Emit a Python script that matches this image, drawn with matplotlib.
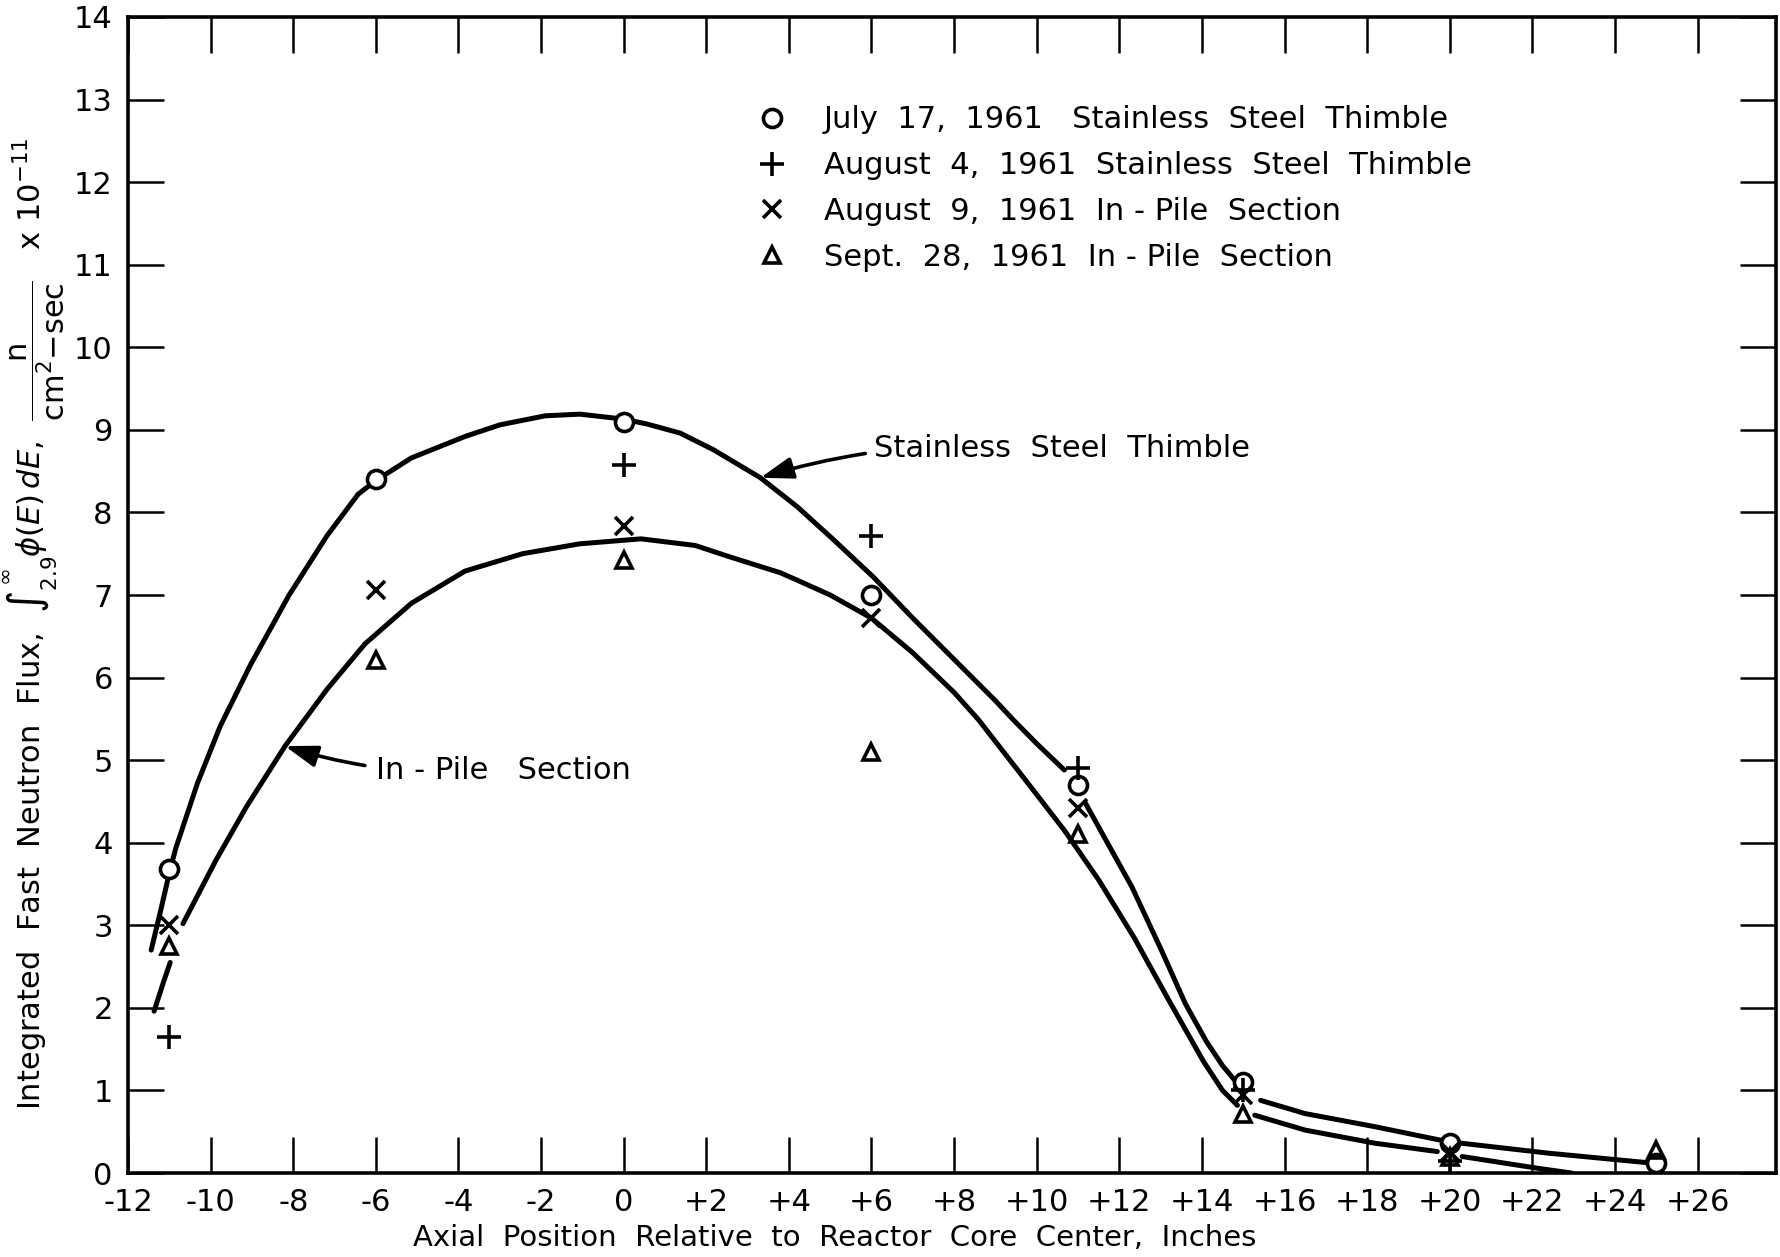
import matplotlib
matplotlib.use("Agg")
import matplotlib.pyplot as plt
import numpy as np

plt.rcParams['font.family'] = ['DejaVu Sans']
plt.rcParams['mathtext.fontset'] = 'dejavusans'

nan = np.nan

# measured points (x = inches from core center, y = flux x 1e-11)
july17_x = [-11, -6, 0, 6, 11, 15, 20, 25]
july17_y = [3.68, 8.40, 9.10, 7.00, 4.70, 1.10, 0.36, 0.12]

aug4_x = [-11, 0, 6, 11, 15, 20]
aug4_y = [1.65, 8.57, 7.72, 4.90, 1.00, 0.15]

aug9_x = [-11, -6, 0, 6, 11, 15, 20]
aug9_y = [3.00, 7.06, 7.83, 6.72, 4.42, 0.95, 0.25]

sep28_x = [-11, -6, 0, 6, 11, 15, 20, 25]
sep28_y = [2.75, 6.21, 7.42, 5.10, 4.10, 0.72, 0.20, 0.28]

# hand drawn curves (nan = gap in the line)
steel_x = [-11.44, -11.2, -10.98, -10.84, -10.32, -9.77, -9.04, -8.1, -7.18, -6.43, -6.02,
           -5.14, -3.84, -3.0, -1.9, -1.06, 0.0, 0.57, 1.37, 2.17, 3.31, 4.2, 5.08, 6.04,
           7.0, 8.0, 9.0, 9.43, 10.0, 10.67, nan,
           11.18, 11.6, 12.3, 13.0, 13.6, 14.1, 14.5, 14.8, nan,
           15.42, 16.5, 18.2, 19.95, 22.4, 24.9]
steel_y = [2.70, 3.20, 3.68, 3.94, 4.72, 5.41, 6.15, 7.00, 7.72, 8.22, 8.38,
           8.66, 8.92, 9.06, 9.17, 9.19, 9.13, 9.07, 8.96, 8.76, 8.42, 8.07, 7.67, 7.22,
           6.72, 6.22, 5.72, 5.49, 5.20, 4.88, nan,
           4.48, 4.10, 3.47, 2.72, 2.05, 1.60, 1.30, 1.12, nan,
           0.88, 0.72, 0.56, 0.38, 0.24, 0.12]

pile_x = [-11.37, -11.15, -10.98, nan,
          -10.67, -9.87, -9.14, -8.2, -7.18, -6.26, -5.14, -3.84, -2.45, -1.06, 0.42, 1.73,
          2.58, 3.79, 4.2, 5.0, 6.0, 7.0, 8.0, 8.59, 9.85, 10.67, 11.5, 12.36, 13.19,
          14.04, 14.5, 14.86, nan,
          15.28, 16.5, 18.2, 19.7, nan,
          20.3, 22.1, 22.95]
pile_y = [1.96, 2.30, 2.55, nan,
          3.02, 3.79, 4.43, 5.17, 5.86, 6.41, 6.90, 7.29, 7.50, 7.62, 7.68, 7.60,
          7.46, 7.27, 7.18, 7.00, 6.72, 6.30, 5.82, 5.49, 4.68, 4.15, 3.55, 2.85, 2.10,
          1.35, 1.00, 0.82, nan,
          0.70, 0.52, 0.36, 0.26, nan,
          0.20, 0.06, 0.0]

xticks = list(range(-12, 27, 2))
xticklabels = [("+%d" % t) if t > 0 else str(t) for t in xticks]
yticks = list(range(0, 15))

fig = plt.figure(figsize=(17.81, 12.57), dpi=100)
ax = fig.add_axes([0.0719, 0.0668, 0.9253, 0.9197])

ax.plot(steel_x, steel_y, color='black', lw=3.6, solid_capstyle='round', zorder=2)
ax.plot(pile_x, pile_y, color='black', lw=3.6, solid_capstyle='round', zorder=2)

ax.plot(july17_x, july17_y, 'o', ms=13, mfc='white', mec='black', mew=2.6, zorder=4,
        label='July  17,  1961   Stainless  Steel  Thimble')
ax.plot(aug4_x, aug4_y, '+', ms=17, mec='black', mew=2.6, zorder=4,
        label='August  4,  1961  Stainless  Steel  Thimble')
ax.plot(aug9_x, aug9_y, 'x', ms=13, mec='black', mew=2.6, zorder=4,
        label='August  9,  1961  In - Pile  Section')
ax.plot(sep28_x, sep28_y, '^', ms=12, mfc='none', mec='black', mew=2.6, zorder=4,
        label='Sept.  28,  1961  In - Pile  Section')

leg = ax.legend(loc='upper left', bbox_to_anchor=(0.374, 0.934), frameon=False,
                fontsize=22, numpoints=1, handlelength=1.0, handletextpad=1.2,
                labelspacing=0.55, borderaxespad=0)

ax.annotate('Stainless  Steel  Thimble', xy=(3.31, 8.42), xytext=(6.05, 8.78),
            fontsize=22, va='center', ha='left',
            arrowprops=dict(arrowstyle='-|>,head_length=0.9,head_width=0.3', lw=2.6,
                            color='black', connectionstyle='arc3,rad=0.1',
                            shrinkA=4, shrinkB=0))
ax.annotate('In - Pile   Section', xy=(-8.2, 5.17), xytext=(-6.0, 4.87),
            fontsize=22, va='center', ha='left',
            arrowprops=dict(arrowstyle='-|>,head_length=0.9,head_width=0.3', lw=2.6,
                            color='black', connectionstyle='arc3,rad=-0.1',
                            shrinkA=6, shrinkB=0))

ax.set_xlim(-12, 27.9)
ax.set_ylim(0, 14)
ax.set_xticks(xticks)
ax.set_xticklabels(xticklabels)
ax.set_yticks(yticks)
ax.tick_params(direction='in', length=26, width=1.8, labelsize=22, pad=11,
               top=True, right=True)
for s in ax.spines.values():
    s.set_linewidth(2.6)

ax.set_xlabel('Axial  Position  Relative  to  Reactor  Core  Center,  Inches',
              fontsize=21, va='center')
ax.xaxis.set_label_coords(0.429, -0.056)
ax.set_ylabel(r'Integrated  Fast  Neutron  Flux,  $\int_{2.9}^{\infty}\phi(E)\,dE$,  '
              r'$\dfrac{\mathrm{n}}{\mathrm{cm}^2\mathrm{-sec}}$   x 10$^{-11}$',
              fontsize=22, va='center', ha='center')
ax.yaxis.set_label_coords(-0.057, 0.475)

fig.savefig('out.png', dpi=100)
